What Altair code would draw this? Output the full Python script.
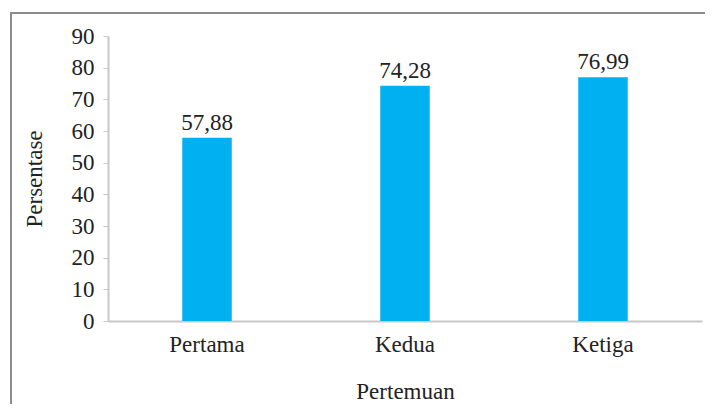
import altair as alt
import pandas as pd

categories = ["Pertama", "Kedua", "Ketiga"]
values = [57.88, 74.28, 76.99]
y_ticks = [0, 10, 20, 30, 40, 50, 60, 70, 80, 90]

df = pd.DataFrame({"Pertemuan": categories, "Persentase": values})
df["label"] = [f"{v:.2f}".replace(".", ",") for v in values]

FONT = "Liberation Serif"
FS = 23

x = alt.X(
    "Pertemuan:N",
    sort=categories,
    scale=alt.Scale(paddingInner=0.75, paddingOuter=0.375),
    axis=alt.Axis(
        title="Pertemuan",
        labelAngle=0,
        ticks=False,
        domainColor="#c8c8c8",
        domainWidth=2,
        labelFont=FONT,
        labelFontSize=FS,
        labelColor="#222222",
        labelPadding=12,
        titleFont=FONT,
        titleFontSize=FS,
        titleFontWeight="normal",
        titleColor="#222222",
        titlePadding=24,
    ),
)
y = alt.Y(
    "Persentase:Q",
    scale=alt.Scale(domain=[0, 90], nice=False),
    axis=alt.Axis(
        title="Persentase",
        values=y_ticks,
        labelOverlap=False,
        grid=False,
        tickSize=5,
        tickColor="#c8c8c8",
        domainColor="#c8c8c8",
        domainWidth=2,
        labelFont=FONT,
        labelFontSize=FS,
        labelColor="#222222",
        labelPadding=9,
        titleFont=FONT,
        titleFontSize=FS,
        titleFontWeight="normal",
        titleColor="#222222",
        titlePadding=25,
    ),
)

base = alt.Chart(df).encode(x=x, y=y)
bars = base.mark_bar(color="#00B0F0")
labels = base.mark_text(
    baseline="bottom", dy=-3, font=FONT, fontSize=FS, color="#222222"
).encode(text="label:N")

frame = alt.Chart(df).mark_rect(
    fill=None, stroke="#8c8c8c", strokeWidth=2, clip=False
).encode(
    x=alt.value(-97), x2=alt.value(700), y=alt.value(-23), y2=alt.value(500)
)

chart = (
    alt.layer(frame, bars, labels)
    .properties(
        width=594,
        height=285,
        autosize=alt.AutoSizeParams(type="none"),
        padding={"left": 100, "top": 28, "right": 3, "bottom": 83},
    )
    .configure_view(stroke=None)
)

chart.save("out.html", embed_options={"renderer": "svg", "actions": False})
